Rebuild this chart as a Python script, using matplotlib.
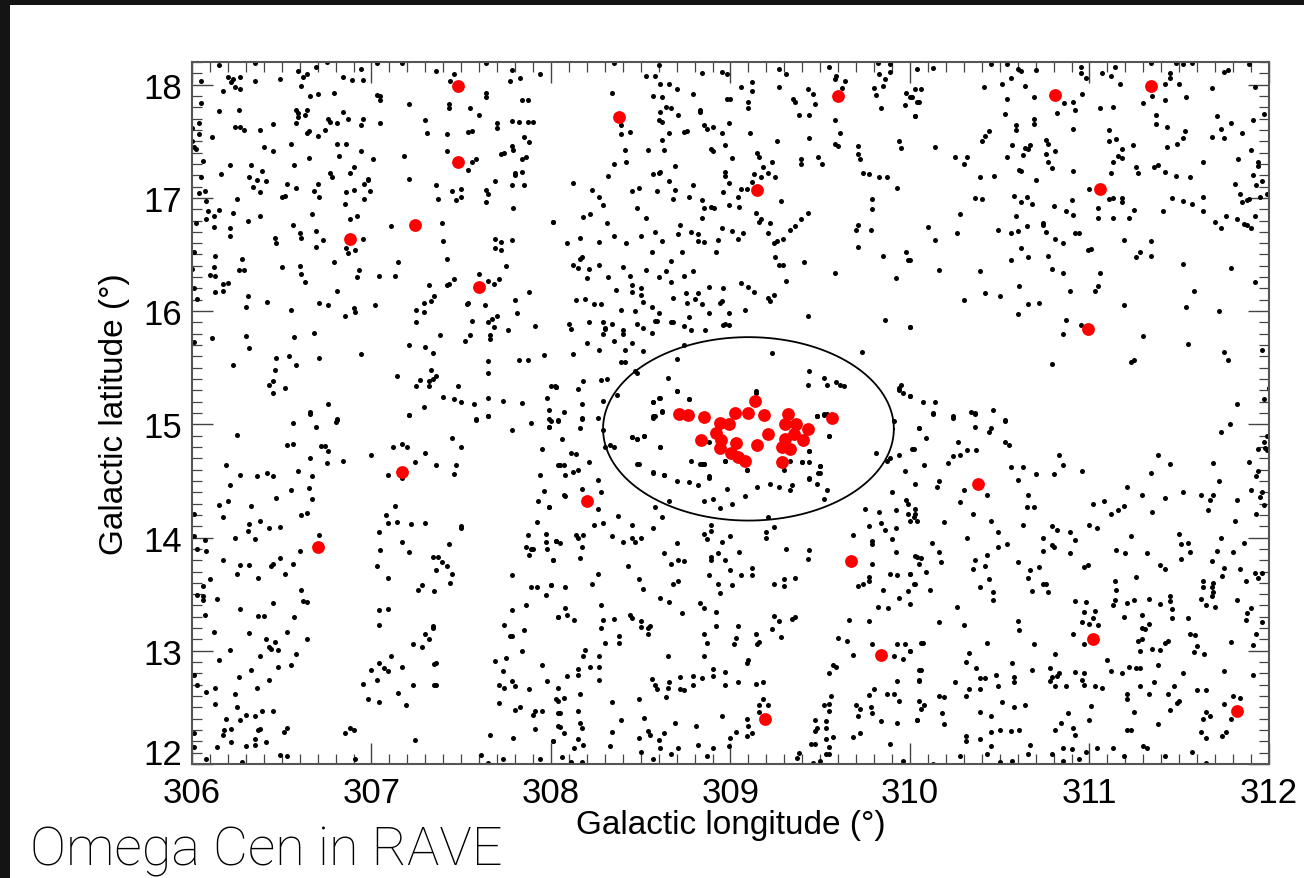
"""
Omega Cen field in RAVE: field stars (black) and RAVE members (red)
in galactic coordinates, with the cluster's tidal radius drawn as a circle.
"""

import matplotlib.pyplot as plt
import numpy as np
from matplotlib.patches import Rectangle

##########################
## Data (galactic longitude, latitude in degrees)

# Cluster centre and tidal radius
cluster_l = 309.10
cluster_b = 14.96
cluster_r = 0.81

# RAVE stars in the central clump
members_core = [
    (308.715, 15.087), (308.765, 15.079), (308.854, 15.067), (308.943, 15.014),
    (308.993, 15.000), (309.025, 15.096), (309.099, 15.102), (309.135, 15.202),
    (309.187, 15.085), (309.320, 15.090), (309.305, 15.000), (309.363, 15.000),
    (309.433, 14.955), (309.564, 15.055), (308.919, 14.926), (308.836, 14.861),
    (308.945, 14.861), (309.031, 14.838), (309.209, 14.911), (309.149, 14.820),
    (309.354, 14.911), (309.402, 14.861), (309.304, 14.867), (309.287, 14.802),
    (309.331, 14.778), (308.942, 14.787), (309.001, 14.743), (309.043, 14.714),
    (309.082, 14.679), (309.285, 14.666),
]

# RAVE stars further out
members_field = [
    (307.48, 17.99), (307.48, 17.32), (308.38, 17.71), (309.60, 17.90),
    (310.81, 17.91), (311.34, 17.99), (309.15, 17.07), (311.06, 17.08),
    (306.88, 16.64), (307.24, 16.76), (307.60, 16.21), (310.99, 15.84),
    (307.17, 14.58), (308.20, 14.32), (310.38, 14.47), (306.70, 13.92),
    (309.67, 13.79), (311.02, 13.10), (309.84, 12.96), (309.19, 12.40),
    (311.82, 12.47),
]

stars_nw = [
    (306.15, 18.17), (306.35, 18.19), (306.69, 18.16), (306.75, 18.20), (306.94, 18.14),
    (307.03, 18.19), (307.17, 18.19), (307.36, 18.12), (307.64, 18.19), (307.78, 18.13),
    (307.94, 18.09), (306.05, 18.03), (306.20, 18.07), (306.23, 18.05), (306.22, 18.02),
    (306.27, 18.07), (306.24, 17.98), (306.27, 17.96), (306.17, 17.94), (306.35, 18.03),
    (306.49, 18.05), (306.59, 18.12), (306.62, 18.07), (306.64, 18.09), (306.61, 17.99),
    (306.66, 17.90), (306.70, 17.92), (306.79, 17.93), (306.84, 18.07), (306.89, 18.04),
    (306.95, 18.04), (307.03, 17.91), (307.05, 17.90), (307.05, 17.86), (307.21, 17.83),
    (307.46, 18.09), (307.44, 18.03), (307.47, 17.96), (307.64, 17.93), (307.64, 17.89),
    (307.77, 18.03), (307.83, 18.06), (306.05, 17.84), (306.15, 17.77), (306.26, 17.78),
    (306.24, 17.63), (306.27, 17.63), (306.29, 17.60), (306.38, 17.60), (306.45, 17.65),
    (306.58, 17.78), (306.59, 17.75), (306.64, 17.78), (306.63, 17.73), (306.58, 17.66),
    (306.59, 17.71), (306.65, 17.59), (306.64, 17.57), (306.70, 17.55), (306.74, 17.60),
    (306.76, 17.70), (306.77, 17.67), (306.81, 17.66), (306.84, 17.76), (306.87, 17.70),
    (306.95, 17.70), (306.94, 17.64), (307.05, 17.66), (307.30, 17.69), (307.31, 17.57),
    (307.43, 17.83), (307.43, 17.79), (307.55, 17.79), (307.42, 17.56), (307.54, 17.58),
    (307.56, 17.59), (307.60, 17.73), (307.70, 17.66), (307.70, 17.62), (307.78, 17.68),
    (307.82, 17.67), (307.87, 17.67), (307.90, 17.67), (307.84, 17.86), (307.87, 17.86),
    (306.00, 17.62), (306.04, 17.66), (306.04, 17.56), (306.11, 17.54), (306.00, 17.50),
    (306.01, 17.45), (306.02, 17.43), (306.40, 17.45), (306.45, 17.41), (306.55, 17.48),
    (306.81, 17.48), (306.86, 17.48), (306.82, 17.37), (306.94, 17.41), (307.01, 17.34),
    (307.18, 17.37), (307.42, 17.41), (307.58, 17.34), (307.56, 17.32), (307.54, 17.25),
    (307.72, 17.39), (307.74, 17.40), (307.78, 17.46), (307.79, 17.42), (307.85, 17.54),
    (307.88, 17.49), (307.86, 17.36), (307.84, 17.34), (307.84, 17.23), (307.80, 17.22),
    (307.80, 17.20), (307.85, 17.11), (307.78, 17.11), (307.69, 17.15), (306.06, 17.33),
    (306.21, 17.29), (306.16, 17.21), (306.33, 17.29), (306.39, 17.24), (306.32, 17.18),
    (306.36, 17.16), (306.41, 17.15), (306.34, 17.10), (306.38, 17.05), (306.57, 17.29),
    (306.53, 17.12), (306.58, 17.09), (306.50, 17.01), (306.52, 17.02), (306.65, 17.35),
    (306.70, 17.12), (306.68, 17.06), (306.71, 17.01), (306.77, 17.22), (306.78, 17.18),
    (306.90, 17.27), (306.88, 17.22), (306.98, 17.17), (306.98, 17.16), (306.96, 17.12),
    (306.90, 17.07), (306.86, 17.05), (306.85, 16.95), (306.99, 17.06), (306.96, 16.99),
    (307.21, 17.17), (307.36, 17.11), (307.37, 16.99), (307.45, 17.06), (307.50, 17.08),
    (307.50, 17.01), (307.47, 16.98), (307.64, 17.07), (307.65, 17.03), (307.64, 16.96),
    (307.79, 16.91), (306.05, 17.18), (306.04, 17.04), (306.07, 17.06), (306.08, 16.97),
    (306.09, 16.88), (306.12, 16.84), (306.15, 16.89), (306.12, 16.74), (306.08, 16.81),
    (306.02, 16.78), (306.23, 16.87), (306.25, 16.99), (306.21, 16.73), (306.21, 16.66),
    (306.31, 16.80), (306.38, 16.84), (306.46, 16.65), (306.47, 16.60), (306.56, 16.76),
    (306.60, 16.69), (306.61, 16.65), (306.69, 16.71), (306.73, 16.63), (306.69, 16.57),
    (306.67, 16.86), (306.88, 16.81), (306.92, 16.84), (306.86, 16.56), (306.87, 16.51),
    (306.91, 16.54), (306.95, 16.64), (307.11, 16.75), (307.39, 16.78), (307.40, 16.62),
    (308.01, 16.79), (307.69, 16.64), (307.72, 16.61), (307.69, 16.56), (307.72, 16.54),
    (307.78, 16.63), (306.01, 16.52), (306.00, 16.37), (306.13, 16.49), (306.12, 16.39),
    (306.10, 16.32), (306.13, 16.31), (306.17, 16.24), (306.20, 16.25), (306.13, 16.17),
    (306.17, 16.18), (306.01, 16.20), (306.03, 16.11), (306.28, 16.46), (306.26, 16.36),
    (306.29, 16.36), (306.31, 16.13), (306.30, 16.04), (306.50, 16.39), (306.60, 16.40),
    (306.61, 16.33), (306.63, 16.26), (306.79, 16.43), (306.93, 16.36), (306.92, 16.30),
    (306.81, 16.18), (307.04, 16.31), (307.13, 16.31), (307.15, 16.43), (307.42, 16.46),
    (307.46, 16.28), (307.43, 16.24), (307.42, 16.23), (307.32, 16.23), (307.35, 16.13),
    (307.33, 16.09), (307.29, 16.07), (307.25, 16.01), (307.29, 15.99), (307.25, 15.90),
    (307.60, 16.33), (307.65, 16.27), (307.71, 16.28), (307.68, 16.24), (307.53, 16.06),
    (307.54, 16.07), (307.63, 16.05), (307.70, 15.96), (307.67, 15.93), (307.65, 15.90),
    (307.68, 15.86), (307.75, 16.40), (307.88, 16.17), (307.80, 16.10), (307.81, 15.98),
    (307.91, 15.87), (307.87, 15.57), (307.82, 15.57), (307.96, 15.61), (306.42, 16.08),
    (306.55, 16.01), (306.71, 16.07), (306.76, 16.05), (306.90, 16.03), (306.91, 15.99),
    (306.85, 15.96), (307.02, 16.05), (306.11, 15.76), (306.01, 15.73), (306.30, 15.78),
    (306.32, 15.67), (306.57, 15.77), (306.68, 15.81), (306.23, 15.52), (306.47, 15.59),
    (306.54, 15.60), (306.58, 15.52), (306.71, 15.59), (306.94, 15.62), (307.21, 15.70),
    (307.30, 15.68), (307.34, 15.63), (307.38, 15.79), (307.52, 15.74), (307.55, 15.79),
    (307.56, 15.91), (307.66, 15.79), (307.66, 15.75), (307.76, 15.83), (307.65, 15.56),
    (307.65, 15.45), (307.14, 15.43), (307.33, 15.48), (307.36, 15.43), (307.34, 15.40),
    (307.32, 15.38), (307.27, 15.39), (307.25, 15.34), (307.32, 15.34), (307.29, 15.15),
    (307.40, 15.24), (307.46, 15.22), (307.50, 15.20), (307.48, 15.34), (307.57, 15.18),
    (307.65, 15.23), (307.73, 15.21), (307.84, 15.19), (307.98, 15.23), (307.99, 15.13),
    (308.00, 15.34), (308.03, 15.33), (306.46, 15.48), (306.45, 15.38), (306.43, 15.35),
    (306.45, 15.28), (306.52, 15.32), (306.76, 15.18), (306.66, 15.11), (306.81, 15.05),
    (307.21, 15.08), (307.65, 15.07), (307.58, 15.05), (307.99, 15.05),
]

stars_n = [
    (308.35, 18.19), (308.60, 18.17), (308.84, 18.10), (308.95, 18.11), (308.98, 18.09),
    (309.27, 18.14), (309.31, 18.09), (309.55, 18.16), (309.59, 18.08), (309.58, 18.05),
    (309.64, 18.03), (309.62, 17.97), (309.82, 18.19), (309.89, 18.18), (309.89, 18.11),
    (309.83, 18.09), (309.86, 18.05), (309.85, 17.99), (309.80, 17.97), (310.03, 17.96),
    (309.98, 17.93), (310.00, 17.89), (310.04, 17.85), (309.97, 17.82), (310.03, 17.72),
    (308.53, 18.08), (308.58, 18.08), (308.61, 18.01), (308.66, 18.01), (308.70, 17.96),
    (308.57, 17.90), (308.62, 17.89), (308.79, 17.92), (309.06, 17.98), (309.12, 18.02),
    (309.12, 17.94), (309.27, 17.98), (308.98, 17.87), (309.00, 17.87), (309.10, 17.85),
    (309.10, 17.79), (309.35, 17.87), (309.36, 17.85), (309.43, 17.96), (309.46, 17.92),
    (309.47, 17.83), (309.38, 17.73), (309.44, 17.73), (309.58, 17.69), (309.61, 17.57),
    (309.84, 17.79), (309.81, 17.91), (308.34, 17.93), (308.61, 17.76), (308.64, 17.80),
    (308.67, 17.79), (308.71, 17.73), (308.60, 17.69), (308.62, 17.67), (308.83, 17.78),
    (308.83, 17.76), (308.85, 17.64), (308.87, 17.61), (308.90, 17.63), (308.66, 17.57),
    (308.74, 17.58), (308.76, 17.59), (308.95, 17.57), (308.99, 17.66), (309.11, 17.57),
    (309.26, 17.50), (309.44, 17.53), (309.58, 17.48), (309.60, 17.46), (308.39, 17.64),
    (308.39, 17.56), (308.44, 17.58), (308.41, 17.42), (308.42, 17.32), (308.35, 17.30),
    (308.54, 17.42), (308.63, 17.42), (308.62, 17.51), (308.89, 17.43), (308.90, 17.41),
    (308.97, 17.47), (309.01, 17.35), (309.15, 17.40), (309.16, 17.36), (309.23, 17.32),
    (309.18, 17.27), (309.21, 17.22), (309.17, 17.18), (309.25, 17.18), (309.13, 17.21),
    (309.12, 17.14), (308.97, 17.23), (308.97, 17.19), (308.99, 17.13), (309.06, 17.08),
    (309.09, 17.08), (309.04, 17.01), (308.96, 17.05), (309.39, 17.34), (309.39, 17.30),
    (309.49, 17.36), (309.51, 17.30), (309.71, 17.46), (309.71, 17.39), (309.72, 17.34),
    (309.74, 17.22), (309.77, 17.21), (309.83, 17.18), (309.87, 17.18), (309.94, 17.50),
    (309.95, 17.44), (309.93, 17.09), (308.12, 17.13), (308.23, 17.07), (308.27, 17.01),
    (308.29, 16.94), (308.32, 17.19), (308.57, 17.21), (308.60, 17.22), (308.61, 17.23),
    (308.69, 17.28), (308.66, 17.15), (308.45, 17.06), (308.49, 17.09), (308.59, 17.06),
    (308.69, 17.07), (308.68, 16.99), (308.79, 17.11), (308.77, 17.01), (308.84, 16.98),
    (308.85, 16.91), (308.89, 16.92), (308.91, 16.91), (308.84, 16.82), (308.99, 16.94),
    (309.05, 16.92), (309.14, 16.87), (309.16, 16.79), (309.17, 16.81), (309.22, 16.78),
    (309.28, 16.97), (309.43, 16.87), (309.39, 16.81), (309.36, 16.75), (309.33, 16.72),
    (309.21, 16.69), (309.24, 16.60), (309.26, 16.62), (309.29, 16.64), (309.79, 16.99),
    (309.79, 16.90), (309.71, 16.76), (309.70, 16.72), (309.78, 16.72), (308.01, 16.79),
    (308.18, 16.83), (308.22, 16.86), (308.31, 16.78), (308.35, 16.66), (308.42, 16.60),
    (308.50, 16.66), (308.48, 16.91), (308.53, 16.82), (308.58, 16.70), (308.62, 16.62),
    (308.71, 16.68), (308.72, 16.76), (308.78, 16.70), (308.82, 16.68), (308.82, 16.62),
    (308.85, 16.61), (308.93, 16.63), (308.95, 16.73), (309.01, 16.71), (309.07, 16.69),
    (309.04, 16.64), (308.92, 16.52), (308.73, 16.52), (308.56, 16.52), (308.09, 16.60),
    (308.16, 16.65), (308.17, 16.48), (308.16, 16.46), (308.12, 16.41), (308.15, 16.38),
    (308.21, 16.37), (308.20, 16.29), (308.27, 16.61), (308.27, 16.41), (308.32, 16.30),
    (308.36, 16.19), (308.40, 16.39), (308.44, 16.31), (308.45, 16.23), (308.45, 16.17),
    (308.50, 16.20), (308.50, 16.14), (308.51, 16.08), (308.39, 16.01), (308.47, 16.00),
    (308.56, 16.04), (308.53, 16.36), (308.60, 16.30), (308.64, 16.35), (308.67, 16.26),
    (308.67, 16.44), (308.74, 16.31), (308.79, 16.35), (308.68, 16.12), (308.75, 16.16),
    (308.80, 16.11), (308.82, 16.16), (308.88, 16.21), (308.84, 16.06), (308.76, 16.07),
    (308.96, 16.20), (308.95, 16.09), (308.94, 16.07), (308.99, 15.98), (309.06, 16.25),
    (309.10, 16.21), (309.13, 16.17), (309.21, 16.12), (309.22, 16.09), (309.24, 16.14),
    (309.08, 16.01), (308.88, 15.98), (308.77, 15.95), (308.60, 15.98), (308.59, 15.91),
    (309.31, 16.27), (309.41, 16.43), (309.25, 16.48), (309.27, 16.41), (309.29, 16.41),
    (309.58, 16.34), (309.71, 16.57), (309.85, 16.49), (309.98, 16.52), (309.99, 16.45),
    (309.92, 16.29), (310.00, 15.86), (309.86, 15.92), (309.43, 15.96), (308.14, 16.10),
    (308.19, 16.11), (308.24, 16.06), (308.28, 16.06), (308.10, 15.89), (308.11, 15.84),
    (308.21, 15.90), (308.30, 15.84), (308.29, 15.90), (308.30, 15.85), (308.34, 15.89),
    (308.29, 15.80), (308.40, 15.83), (308.40, 15.80), (308.35, 15.74), (308.45, 15.72),
    (308.48, 15.89), (308.51, 15.85), (308.56, 15.81), (308.58, 15.91), (308.67, 15.90),
    (308.68, 15.90), (308.74, 15.87), (308.78, 15.83), (308.86, 15.83), (308.96, 15.88),
    (308.97, 15.89), (308.99, 15.88), (308.20, 15.72), (308.27, 15.66), (308.41, 15.66),
    (308.51, 15.65), (308.12, 15.62), (308.39, 15.55), (308.41, 15.55), (308.74, 15.70),
    (308.70, 15.58), (309.23, 15.63), (309.73, 15.64), (308.47, 15.47), (308.48, 15.45),
    (308.31, 15.40), (308.28, 15.39), (308.18, 15.38), (308.15, 15.31), (308.02, 15.34),
    (308.03, 15.33), (308.65, 15.41), (308.70, 15.29), (308.77, 15.22), (308.61, 15.23),
    (308.57, 15.20), (308.29, 15.21), (308.37, 15.26), (308.17, 15.18), (308.07, 15.11),
    (308.17, 15.06), (308.58, 15.07), (308.62, 15.12), (309.14, 15.29), (309.44, 15.47),
    (309.43, 15.35), (309.52, 15.41), (309.54, 15.35), (309.59, 15.37), (309.61, 15.35),
    (309.63, 15.34), (309.94, 15.32), (309.94, 15.30), (309.96, 15.28), (310.00, 15.25),
    (309.95, 15.35), (309.48, 15.07), (309.54, 15.09),
]

stars_ne = [
    (310.04, 18.14), (310.13, 18.15), (310.45, 18.18), (310.54, 18.18), (310.60, 18.14),
    (310.62, 18.12), (310.70, 18.13), (310.95, 18.16), (310.95, 18.10), (310.98, 18.06),
    (311.07, 18.10), (311.12, 18.08), (311.14, 18.16), (311.17, 18.01), (311.34, 18.19),
    (311.45, 18.10), (311.45, 18.06), (311.42, 18.01), (311.50, 18.01), (311.48, 18.19),
    (311.52, 18.18), (311.57, 18.19), (311.75, 18.11), (311.77, 18.13), (311.89, 18.18),
    (311.92, 17.98), (310.01, 17.89), (310.05, 17.85), (310.06, 17.96), (310.03, 17.72),
    (310.41, 17.98), (310.51, 18.01), (310.56, 18.06), (310.64, 17.99), (310.54, 17.87),
    (310.53, 17.74), (310.69, 17.89), (310.86, 17.84), (310.82, 17.75), (310.91, 17.85),
    (310.92, 17.78), (310.96, 17.92), (311.06, 17.79), (311.13, 17.80), (311.30, 17.84),
    (311.35, 17.90), (311.37, 17.73), (311.37, 17.65), (311.42, 17.86), (311.43, 17.63),
    (311.54, 17.89), (311.68, 17.97), (311.71, 17.72), (311.91, 17.69), (311.97, 17.74),
    (311.73, 17.61), (311.75, 17.53), (311.79, 17.66), (311.85, 17.57), (311.68, 17.54),
    (310.14, 17.45), (310.25, 17.36), (310.30, 17.30), (310.32, 17.36), (310.39, 17.18),
    (310.47, 17.19), (310.40, 17.50), (310.42, 17.55), (310.44, 17.59), (310.57, 17.47),
    (310.54, 17.36), (310.59, 17.64), (310.59, 17.60), (310.64, 17.44), (310.66, 17.43),
    (310.67, 17.47), (310.63, 17.38), (310.69, 17.70), (310.69, 17.65), (310.70, 17.16),
    (310.61, 17.25), (310.62, 17.24), (310.76, 17.51), (310.77, 17.48), (310.76, 17.39),
    (310.77, 17.32), (310.79, 17.26), (310.81, 17.41), (310.91, 17.61), (310.91, 17.24),
    (311.11, 17.60), (311.15, 17.52), (311.11, 17.50), (311.18, 17.43), (311.16, 17.37),
    (311.18, 17.35), (311.13, 17.32), (311.12, 17.22), (311.24, 17.47), (311.26, 17.27),
    (311.27, 17.22), (311.38, 17.29), (311.36, 17.27), (311.43, 17.45), (311.49, 17.48),
    (311.52, 17.53), (311.53, 17.59), (311.42, 17.23), (311.48, 17.19), (311.56, 17.18),
    (311.63, 17.32), (311.90, 17.42), (311.83, 17.34), (311.94, 17.32), (311.94, 17.28),
    (311.91, 17.20), (311.81, 17.12), (311.84, 17.03), (311.85, 16.96), (311.88, 16.98),
    (311.89, 16.99), (311.95, 17.01), (311.96, 17.15), (311.93, 17.11), (311.99, 17.03),
    (310.36, 17.00), (310.40, 16.99), (310.58, 17.02), (310.62, 16.96), (310.65, 17.01),
    (310.68, 16.95), (310.80, 16.93), (310.87, 16.88), (310.90, 16.98), (310.91, 16.85),
    (311.00, 17.08), (311.05, 16.91), (311.05, 16.82), (311.11, 16.99), (311.13, 17.00),
    (311.18, 17.00), (311.18, 16.96), (311.13, 16.82), (311.22, 16.82), (311.25, 16.89),
    (311.41, 16.88), (311.46, 17.00), (311.52, 16.97), (311.57, 16.95), (311.63, 16.88),
    (311.63, 17.01), (311.70, 16.79), (311.73, 16.73), (311.76, 16.84), (311.82, 16.81),
    (311.86, 16.77), (311.88, 16.76), (311.90, 16.73), (311.92, 16.84), (310.28, 16.86),
    (310.10, 16.74), (310.14, 16.63), (310.26, 16.69), (310.49, 16.72), (310.56, 16.69),
    (310.59, 16.84), (310.60, 16.71), (310.65, 16.75), (310.62, 16.56), (310.66, 16.48),
    (310.74, 16.78), (310.74, 16.76), (310.76, 16.70), (310.81, 16.64), (310.85, 16.60),
    (310.92, 16.69), (310.94, 16.69), (310.99, 16.54), (311.01, 16.55), (311.19, 16.63),
    (311.34, 16.62), (311.34, 16.49), (311.26, 16.48), (311.28, 16.52), (311.52, 16.42),
    (311.79, 16.38), (310.00, 16.45), (310.16, 16.36), (310.39, 16.35), (310.56, 16.45),
    (310.61, 16.22), (310.42, 16.16), (310.50, 16.13), (310.77, 16.49), (310.79, 16.37),
    (310.85, 16.34), (310.89, 16.18), (311.03, 16.18), (311.05, 16.22), (311.06, 16.34),
    (311.19, 16.05), (311.54, 16.04), (311.58, 16.18), (311.72, 16.00), (311.92, 16.26),
    (310.30, 16.10), (310.66, 16.06), (310.72, 16.07), (310.60, 15.97), (310.87, 15.92),
    (310.85, 15.80), (310.95, 15.88), (311.30, 15.78), (311.55, 15.71), (311.75, 15.64),
    (311.77, 15.57), (311.96, 15.66), (310.79, 15.53), (311.23, 15.55), (311.25, 15.57),
    (310.00, 15.86), (310.00, 15.25), (310.07, 15.20), (310.14, 15.20), (310.13, 15.10),
    (310.24, 15.07), (310.34, 15.11), (310.36, 15.10), (310.46, 15.13), (310.53, 15.04),
    (311.82, 15.18), (311.97, 15.22), (312.00, 15.32),
]

stars_sw = [
    (306.56, 15.01), (306.66, 15.09), (306.81, 15.04), (306.80, 15.02), (306.69, 14.98),
    (307.21, 15.08), (307.58, 15.04), (307.65, 15.07), (307.78, 14.95), (307.89, 15.01),
    (307.99, 14.98), (308.00, 15.03), (308.04, 15.03), (306.25, 14.91), (306.53, 14.82),
    (306.56, 14.83), (306.66, 14.70), (306.72, 14.81), (306.74, 14.81), (306.76, 14.76),
    (306.75, 14.66), (306.84, 14.68), (307.00, 14.73), (307.12, 14.80), (307.17, 14.83),
    (307.20, 14.80), (307.30, 14.75), (307.24, 14.67), (307.36, 14.64), (307.45, 14.88),
    (307.50, 14.80), (307.47, 14.64), (307.46, 14.56), (307.09, 14.55), (307.17, 14.53),
    (307.95, 14.78), (307.94, 14.55), (307.96, 14.41), (307.93, 14.32), (307.99, 14.27),
    (307.92, 14.14), (307.97, 14.03), (307.98, 13.90), (307.97, 13.96), (308.04, 14.64),
    (308.03, 13.97), (307.87, 14.02), (307.86, 13.92), (307.89, 13.90), (307.90, 13.90),
    (307.88, 13.85), (308.01, 13.80), (306.19, 14.64), (306.27, 14.55), (306.36, 14.54),
    (306.42, 14.57), (306.45, 14.54), (306.21, 14.46), (306.15, 14.29), (306.20, 14.32),
    (306.17, 14.18), (306.33, 14.28), (306.59, 14.59), (306.55, 14.42), (306.65, 14.44),
    (306.67, 14.34), (306.67, 14.54), (306.47, 14.35), (306.61, 14.20), (306.64, 14.22),
    (306.38, 14.15), (306.32, 14.12), (306.31, 14.06), (306.35, 13.99), (306.43, 14.08),
    (306.49, 14.09), (306.24, 14.00), (306.01, 14.21), (306.01, 14.01), (306.07, 13.98),
    (306.03, 13.90), (306.08, 13.88), (306.17, 13.80), (306.10, 13.63), (306.06, 13.57),
    (306.03, 13.49), (306.06, 13.48), (306.06, 13.45), (306.07, 13.32), (306.14, 13.46),
    (306.25, 13.68), (306.27, 13.76), (306.32, 13.76), (306.37, 13.64), (306.44, 13.75),
    (306.45, 13.77), (306.49, 13.82), (306.52, 13.68), (306.56, 13.77), (306.60, 13.88),
    (306.71, 14.02), (306.61, 13.54), (306.62, 13.44), (306.64, 13.43), (306.45, 13.42),
    (306.57, 13.30), (306.27, 13.37), (306.37, 13.31), (306.40, 13.31), (307.08, 14.20),
    (307.04, 14.05), (307.09, 14.13), (307.14, 14.14), (307.13, 14.28), (307.22, 14.12),
    (307.30, 14.13), (307.17, 13.96), (307.21, 13.87), (307.05, 13.89), (307.03, 13.75),
    (307.09, 13.64), (307.34, 13.83), (307.37, 13.83), (307.39, 13.78), (307.42, 13.75),
    (307.43, 13.94), (307.50, 14.10), (307.50, 14.08), (307.36, 13.71), (307.45, 13.68),
    (307.44, 13.60), (307.28, 13.58), (307.26, 13.54), (307.35, 13.53), (307.78, 13.67),
    (307.89, 13.56), (307.92, 13.56), (307.97, 13.49), (308.00, 13.58), (308.04, 13.30),
    (307.78, 13.36), (307.74, 13.23), (307.86, 13.40), (307.85, 13.18), (307.84, 13.00),
    (307.77, 13.13), (307.78, 13.13), (307.69, 12.91), (307.75, 12.94), (307.73, 12.82),
    (307.04, 13.36), (307.09, 13.37), (307.04, 13.23), (307.34, 13.20), (307.34, 13.22),
    (307.30, 13.15), (307.32, 13.10), (307.23, 13.06), (307.28, 13.03), (307.11, 12.95),
    (307.04, 12.89), (307.07, 12.85), (307.09, 12.82), (307.00, 12.83), (307.03, 12.74),
    (306.95, 12.71), (307.17, 12.86), (307.23, 12.70), (307.35, 12.88), (307.36, 12.89),
    (307.35, 12.70), (307.36, 12.70), (307.15, 12.63), (307.19, 12.52), (306.98, 12.57),
    (307.04, 12.55), (306.85, 12.27), (306.88, 12.32), (306.90, 12.30), (307.24, 12.21),
    (306.91, 12.04), (306.12, 13.17), (306.32, 13.16), (306.21, 13.01), (306.15, 12.92),
    (306.38, 12.95), (306.41, 13.10), (306.43, 13.03), (306.44, 13.02), (306.46, 13.08),
    (306.48, 13.01), (306.53, 13.17), (306.64, 13.10), (306.58, 12.97), (306.55, 12.87),
    (306.48, 12.86), (306.43, 12.74), (306.36, 12.67), (306.33, 12.83), (306.26, 12.77),
    (306.24, 12.62), (306.13, 12.67), (306.08, 12.64), (306.03, 12.70), (306.01, 12.79),
    (306.13, 12.53), (306.19, 12.40), (306.25, 12.50), (306.27, 12.39), (306.30, 12.43),
    (306.35, 12.42), (306.39, 12.47), (306.45, 12.47), (306.17, 12.26), (306.18, 12.30),
    (306.22, 12.31), (306.01, 12.27), (306.01, 12.15), (306.14, 12.15), (306.22, 12.19),
    (306.30, 12.16), (306.35, 12.17), (306.35, 12.22), (306.37, 12.30), (306.38, 12.31),
    (306.41, 12.19), (306.51, 12.28), (306.53, 12.32), (306.49, 12.08), (306.53, 12.07),
    (306.28, 12.02), (306.08, 12.04), (307.71, 12.70), (307.74, 12.67), (307.80, 12.69),
    (307.78, 12.73), (307.71, 12.54), (307.80, 12.48), (307.83, 12.50), (307.88, 12.66),
    (307.95, 12.87), (307.98, 12.73), (307.91, 12.47), (307.90, 12.43), (307.95, 12.47),
    (307.91, 12.31), (307.66, 12.26), (307.79, 12.23), (308.01, 12.20), (308.04, 12.56),
    (308.04, 12.45), (308.04, 12.34), (307.73, 12.04), (307.94, 12.04), (307.61, 12.08),
    (307.65, 12.01),
]

stars_s = [
    (307.99, 14.98), (308.04, 15.04), (308.17, 15.05), (308.26, 15.06), (308.29, 14.95),
    (308.16, 14.97), (308.06, 14.87), (308.11, 14.75), (308.14, 14.74), (308.21, 14.67),
    (308.05, 14.64), (308.07, 14.64), (308.08, 14.55), (308.12, 14.58), (308.15, 14.60),
    (307.99, 14.27), (308.17, 14.43), (308.07, 14.38), (308.08, 14.37), (308.28, 14.40),
    (308.26, 14.51), (308.26, 14.25), (308.30, 14.80), (308.33, 14.82), (308.35, 14.80),
    (308.45, 14.89), (308.48, 14.87), (308.52, 14.90), (308.57, 15.06), (308.61, 14.80),
    (308.48, 14.65), (308.57, 14.57), (308.63, 14.55), (308.70, 14.50), (308.77, 14.49),
    (308.82, 14.46), (308.84, 14.65), (308.85, 14.65), (308.88, 14.53), (308.97, 14.68),
    (309.09, 14.60), (308.98, 14.43), (309.08, 14.37), (309.15, 14.45), (309.22, 14.47),
    (309.27, 14.45), (309.34, 14.46), (309.33, 14.42), (309.44, 14.52), (309.48, 14.47),
    (309.50, 14.57), (309.50, 14.63), (309.44, 14.67), (309.40, 14.67), (309.44, 14.76),
    (309.54, 14.42), (309.52, 14.34), (309.55, 14.90), (309.48, 15.07), (309.52, 15.08),
    (309.91, 15.03), (310.05, 14.97), (310.01, 14.78), (309.81, 14.75), (309.87, 14.68),
    (309.89, 14.70), (309.94, 14.73), (309.97, 14.59), (310.03, 14.47), (308.66, 14.32),
    (308.85, 14.32), (308.90, 14.34), (308.94, 14.26), (309.01, 14.30), (308.89, 14.11),
    (308.89, 14.06), (308.85, 14.03), (308.87, 13.99), (308.95, 13.96), (309.00, 14.01),
    (309.05, 13.87), (309.12, 13.73), (309.12, 13.67), (308.97, 13.80), (309.00, 13.71),
    (308.93, 13.59), (308.94, 13.51), (308.88, 13.67), (308.89, 13.83), (308.89, 13.80),
    (308.93, 13.86), (309.21, 14.18), (309.20, 14.05), (309.20, 14.00), (309.24, 14.09),
    (309.31, 13.90), (309.44, 13.89), (309.43, 13.81), (309.36, 13.64), (309.30, 13.63),
    (309.30, 13.57), (309.24, 13.59), (309.01, 13.58), (309.06, 13.67), (308.01, 13.80),
    (308.03, 13.97), (308.05, 13.95), (308.14, 14.02), (308.15, 14.00), (308.18, 14.02),
    (308.17, 13.92), (308.16, 13.82), (308.24, 14.11), (308.29, 14.13), (308.34, 14.01),
    (308.375, 14.19), (308.40, 13.96), (308.45, 14.11), (308.45, 14.00), (308.47, 13.96),
    (308.50, 14.00), (308.57, 14.08), (308.58, 14.27), (308.62, 14.18), (308.63, 13.86),
    (308.67, 13.77), (308.70, 13.95), (308.71, 13.80), (308.74, 13.79), (308.71, 13.62),
    (308.68, 13.59), (308.49, 13.63), (308.51, 13.55), (308.43, 13.75), (308.26, 13.68),
    (308.23, 13.59), (308.08, 13.56), (308.00, 13.58), (308.08, 13.38), (308.09, 13.32),
    (308.13, 13.27), (308.04, 13.30), (308.28, 13.40), (308.29, 13.27), (308.28, 13.20),
    (308.30, 13.07), (308.35, 13.28), (308.38, 13.13), (308.38, 13.07), (308.44, 13.32),
    (308.45, 13.29), (308.50, 13.26), (308.50, 13.21), (308.54, 13.20), (308.55, 13.22),
    (308.54, 13.15), (308.61, 13.47), (308.66, 13.43), (308.73, 13.33), (308.83, 13.42),
    (308.85, 13.38), (308.92, 13.34), (308.92, 13.22), (309.04, 13.22), (308.85, 13.15),
    (308.87, 13.07), (309.03, 13.11), (309.02, 13.06), (309.14, 13.15), (309.16, 13.08),
    (309.15, 13.06), (309.23, 13.19), (309.24, 13.31), (309.27, 13.26), (309.28, 13.12),
    (309.34, 13.28), (309.36, 13.30), (308.85, 12.95), (308.65, 12.95), (308.27, 12.95),
    (308.22, 12.86), (308.19, 13.01), (308.18, 12.95), (308.15, 12.84), (308.15, 12.79),
    (308.09, 12.78), (308.27, 12.74), (308.27, 12.86), (308.04, 12.67), (308.03, 12.57),
    (308.07, 12.58), (308.16, 12.62), (308.34, 12.55), (308.49, 12.57), (308.56, 12.75),
    (308.58, 12.70), (308.59, 12.66), (308.66, 12.72), (308.65, 12.67), (308.64, 12.59),
    (308.72, 12.77), (308.72, 12.66), (308.74, 12.65), (308.79, 12.70), (308.79, 12.78),
    (308.84, 12.76), (308.90, 12.84), (308.90, 12.78), (308.97, 12.81), (308.97, 12.70),
    (309.04, 12.72), (309.09, 12.89), (309.10, 12.92), (309.14, 12.71), (309.18, 12.72),
    (309.18, 12.57), (309.21, 12.52), (309.16, 12.52), (309.16, 12.46), (309.09, 12.40),
    (309.10, 12.34), (309.12, 12.27), (308.95, 12.42), (309.03, 12.28), (309.00, 12.23),
    (308.99, 12.16), (309.09, 12.25), (308.87, 12.07), (308.90, 12.14), (308.82, 12.17),
    (308.81, 12.34), (308.69, 12.36), (308.71, 12.14), (308.67, 12.09), (308.60, 12.21),
    (308.61, 12.14), (308.63, 12.27), (308.54, 12.29), (308.55, 12.26), (308.52, 12.41),
    (308.50, 12.11), (308.57, 12.04), (308.39, 12.39), (308.34, 12.28), (308.33, 12.16),
    (308.49, 12.23), (308.05, 12.45), (308.05, 12.33), (308.07, 12.27), (308.15, 12.47),
    (308.16, 12.36), (308.17, 12.32), (308.15, 12.22), (308.13, 12.14), (308.18, 12.17),
    (308.11, 12.02), (308.17, 12.02), (308.06, 12.06), (308.01, 12.20), (309.68, 14.02),
    (309.75, 14.25), (309.77, 14.10), (309.83, 14.23), (309.84, 14.13), (309.86, 14.07),
    (309.92, 14.24), (309.92, 14.08), (309.90, 13.99), (309.92, 13.87), (309.98, 14.33),
    (309.99, 14.30), (309.99, 14.21), (310.00, 14.15), (310.03, 14.21), (310.04, 14.15),
    (309.90, 14.40), (309.79, 13.97), (309.79, 13.94), (309.79, 13.77), (309.77, 13.65),
    (309.77, 13.62), (309.74, 13.59), (309.71, 13.57), (309.89, 13.68), (309.93, 13.67),
    (310.00, 13.68), (310.06, 13.82), (310.03, 13.84), (309.85, 13.54), (309.88, 13.38),
    (309.94, 13.47), (309.99, 13.53), (310.02, 13.59), (309.82, 13.39), (309.77, 13.26),
    (309.66, 13.27), (309.60, 13.11), (309.65, 13.09), (309.68, 12.96), (309.79, 13.06),
    (309.91, 12.95), (309.96, 12.93), (310.00, 13.00), (309.97, 13.06), (309.93, 13.06),
    (310.06, 13.07), (309.93, 12.73), (309.87, 12.62), (309.91, 12.62), (309.94, 12.56),
    (309.80, 12.66), (309.77, 12.61), (309.70, 12.52), (309.72, 12.49), (309.71, 12.42),
    (309.78, 12.50), (309.79, 12.45), (309.84, 12.38), (309.93, 12.36), (310.04, 12.39),
    (310.05, 12.56), (310.05, 12.73), (310.05, 12.83), (309.68, 12.24), (309.72, 12.27),
    (309.89, 12.18), (309.96, 12.03), (309.55, 12.47), (309.55, 12.53), (309.56, 12.60),
    (309.52, 12.52), (309.53, 12.38), (309.47, 12.39), (309.48, 12.32), (309.53, 12.32),
    (309.47, 12.29), (309.53, 12.22), (309.57, 12.24), (309.55, 12.15), (309.53, 12.09),
    (309.55, 12.09), (309.45, 12.18), (309.47, 12.18), (309.50, 12.03), (309.46, 12.01),
    (309.38, 12.10), (309.37, 12.05), (309.55, 12.80), (309.59, 12.86), (309.57, 12.87),
]

stars_core = [
    (308.70, 15.29), (308.57, 15.20), (308.60, 15.23), (308.77, 15.22), (308.62, 15.11),
    (308.57, 15.07), (309.14, 15.28), (309.48, 15.07), (309.52, 15.09), (309.55, 14.90),
    (308.45, 14.89), (308.48, 14.87), (308.52, 14.90), (308.61, 14.80), (308.78, 14.68),
    (308.83, 14.65), (308.85, 14.65), (308.88, 14.84), (308.97, 14.68), (309.09, 14.60),
    (309.30, 14.60), (309.33, 14.68), (309.40, 14.67), (309.44, 14.76), (309.50, 14.63),
    (309.49, 14.57), (309.44, 14.53), (308.88, 14.54), (308.63, 14.55), (308.57, 14.58),
    (308.49, 14.65),
]

stars_se = [
    (310.13, 15.09), (310.24, 15.06), (310.36, 15.09), (310.53, 15.03), (310.36, 14.98),
    (310.05, 14.97), (310.09, 14.88), (310.02, 14.78), (310.27, 14.84), (310.24, 14.72),
    (310.28, 14.73), (310.32, 14.77), (310.37, 14.77), (310.21, 14.66), (310.08, 14.64),
    (310.45, 14.97), (310.44, 14.93), (310.53, 14.84), (310.55, 14.82), (310.56, 14.62),
    (310.63, 14.62), (310.70, 14.56), (310.60, 14.51), (310.80, 14.56), (310.83, 14.73),
    (310.85, 14.64), (310.96, 14.59), (310.43, 14.38), (310.28, 14.31), (310.30, 14.42),
    (310.35, 14.21), (310.45, 14.15), (310.49, 14.05), (310.15, 14.45), (310.16, 14.50),
    (310.03, 14.25), (310.02, 14.18), (310.19, 14.14), (310.32, 14.00), (310.63, 14.11),
    (310.66, 14.38), (310.65, 14.27), (310.69, 14.27), (310.79, 14.10), (310.82, 14.07),
    (310.74, 14.00), (310.80, 13.92), (310.89, 14.05), (310.92, 13.98), (311.00, 14.11),
    (311.04, 14.08), (311.02, 14.30), (311.08, 14.32), (311.12, 14.21), (311.16, 14.24),
    (311.19, 14.28), (311.21, 14.45), (311.29, 14.38), (311.34, 14.57), (311.38, 14.73),
    (311.45, 14.65), (311.35, 14.23), (311.42, 14.35), (311.52, 14.40), (311.62, 14.38),
    (311.67, 14.33), (311.69, 14.38), (311.66, 14.24), (311.72, 14.50), (311.69, 14.66),
    (311.73, 14.93), (311.78, 15.00), (311.89, 14.67), (311.90, 14.42), (311.82, 14.33),
    (311.81, 14.15), (311.93, 14.54), (311.94, 14.59), (311.96, 14.40), (311.95, 14.36),
    (311.97, 14.29), (311.93, 14.21), (311.98, 14.79), (311.99, 14.90), (311.97, 14.84),
    (311.99, 14.77), (311.94, 14.78), (310.12, 13.95), (310.16, 13.87), (310.17, 13.78),
    (310.04, 13.83), (310.05, 13.77), (310.09, 13.70), (310.00, 13.68), (310.03, 13.59),
    (310.11, 13.54), (310.00, 13.41), (310.26, 13.39), (310.36, 13.80), (310.35, 13.72),
    (310.42, 13.75), (310.43, 13.85), (310.49, 13.92), (310.54, 13.94), (310.44, 13.63),
    (310.39, 13.56), (310.46, 13.52), (310.46, 13.45), (310.60, 13.78), (310.67, 13.71),
    (310.66, 13.64), (310.68, 13.53), (310.72, 13.74), (310.74, 13.88), (310.79, 13.93),
    (310.74, 13.59), (310.76, 13.59), (310.77, 13.52), (310.89, 13.86), (310.97, 13.74),
    (310.99, 13.76), (311.15, 13.89), (311.20, 13.86), (311.23, 14.01), (311.32, 13.86),
    (311.39, 13.76), (311.42, 13.72), (311.50, 14.03), (311.51, 13.94), (311.55, 13.95),
    (311.56, 13.87), (311.51, 13.81), (311.68, 13.79), (311.71, 13.88), (311.73, 14.00),
    (311.75, 13.73), (311.74, 13.66), (311.80, 13.87), (311.86, 13.95), (311.84, 13.72),
    (311.87, 13.62), (311.92, 13.69), (311.96, 13.69), (311.94, 13.64), (311.82, 13.45),
    (311.90, 13.38), (311.88, 13.33), (311.87, 13.27), (311.96, 13.25), (311.93, 13.15),
    (311.91, 13.05), (311.79, 13.08), (311.75, 12.82), (311.91, 12.79), (311.63, 13.62),
    (311.63, 13.56), (311.69, 13.60), (311.68, 13.56), (311.69, 13.52), (311.68, 13.48),
    (311.62, 13.46), (311.65, 13.40), (311.70, 13.39), (311.55, 13.29), (311.56, 13.15),
    (311.59, 13.14), (311.60, 13.04), (311.58, 12.99), (311.64, 12.97), (311.52, 12.80),
    (311.60, 12.65), (311.65, 12.65), (311.65, 12.46), (311.63, 12.40), (311.67, 12.42),
    (311.62, 12.28), (311.65, 12.23), (311.57, 12.11), (311.74, 12.25), (311.76, 12.28),
    (311.79, 12.40), (311.75, 12.53), (311.80, 12.60), (311.84, 12.58), (311.14, 13.62),
    (311.26, 13.65), (311.15, 13.54), (311.14, 13.45), (311.13, 13.40), (311.21, 13.42),
    (311.25, 13.45), (311.19, 13.30), (311.29, 13.32), (311.33, 13.46), (311.39, 13.41),
    (311.45, 13.48), (311.45, 13.44), (311.46, 13.37), (311.46, 13.29), (311.33, 13.24),
    (311.31, 13.19), (311.29, 13.20), (311.27, 13.09), (311.29, 13.10), (311.28, 13.00),
    (311.35, 13.02), (311.39, 13.01), (311.42, 13.07), (311.44, 13.09), (310.92, 13.44),
    (310.98, 13.43), (310.97, 13.34), (311.03, 13.35), (311.02, 13.29), (310.96, 13.25),
    (311.00, 13.24), (311.05, 13.23), (310.91, 13.15), (310.97, 13.06), (311.10, 12.92),
    (311.12, 12.82), (311.18, 12.80), (311.22, 12.86), (311.26, 12.85), (311.28, 12.85),
    (311.38, 12.87), (311.36, 12.72), (311.33, 12.62), (311.28, 12.69), (311.21, 12.62),
    (311.21, 12.57), (311.25, 12.46), (311.45, 12.48), (311.49, 12.54), (311.50, 12.56),
    (311.47, 12.69), (311.44, 12.62), (311.38, 12.35), (311.23, 12.30), (310.00, 13.00),
    (310.07, 13.07), (310.06, 12.83), (310.05, 12.74), (310.16, 13.25), (310.30, 13.23),
    (310.43, 13.07), (310.60, 13.26), (310.61, 13.18), (310.69, 13.06), (310.78, 12.85),
    (310.81, 12.97), (310.79, 12.77), (310.82, 12.78), (310.83, 12.80), (310.78, 12.73),
    (310.81, 12.69), (310.87, 12.69), (310.92, 12.81), (310.97, 12.80), (310.96, 12.74),
    (310.97, 12.70), (311.03, 12.69), (311.07, 12.67), (311.01, 12.51), (311.00, 12.39),
    (310.88, 12.45), (310.84, 12.36), (310.91, 12.32), (310.92, 12.26), (310.81, 12.30),
    (310.68, 12.83), (310.57, 12.89), (310.58, 12.77), (310.58, 12.72), (310.49, 12.69),
    (310.48, 12.79), (310.42, 12.76), (310.39, 12.76), (310.39, 12.66), (310.33, 12.98),
    (310.31, 12.90), (310.37, 12.85), (310.33, 12.66), (310.25, 12.72), (310.31, 12.60),
    (310.16, 12.60), (310.19, 12.59), (310.06, 12.49), (310.08, 12.52), (310.04, 12.39),
    (310.18, 12.45), (310.19, 12.35), (310.39, 12.46), (310.45, 12.42), (310.51, 12.55),
    (310.58, 12.50), (310.64, 12.52), (310.45, 12.28), (310.50, 12.30), (310.56, 12.29),
    (310.61, 12.30), (310.31, 12.25), (310.31, 12.20), (310.39, 12.22), (310.45, 12.16),
    (310.43, 12.09), (310.28, 12.07), (310.13, 12.00), (310.67, 12.17), (310.66, 12.09),
    (310.50, 12.02), (310.57, 12.03), (310.79, 12.09), (310.85, 12.03), (310.85, 12.14),
    (310.90, 12.13), (310.94, 12.04), (310.98, 12.11), (311.04, 12.14), (311.13, 12.14),
    (311.19, 12.07), (311.30, 12.16), (311.32, 12.14), (311.42, 12.07), (311.65, 12.01),
    (311.21, 12.30),
]

##########################
## Plot

plt.rcParams['font.family'] = ['Liberation Sans', 'DejaVu Sans']

fig = plt.figure(figsize=(13.04, 8.79), dpi=100, facecolor='#141414')

# white slide panel, kept behind the axes
fig.patches.append(Rectangle((10 / 1304, 0), 1, 873 / 879, transform=fig.transFigure,
                             facecolor='white', edgecolor='none', zorder=-10))

ax = fig.add_axes([192 / 1304, 1 - 765 / 879, 1077 / 1304, 702 / 879])
ax.set_zorder(5)

field = np.array(stars_nw + stars_n + stars_ne + stars_sw + stars_s + stars_se + stars_core)
ax.scatter(field[:, 0], field[:, 1], s=13, color='black', linewidths=0, zorder=2)

# tidal radius
t = np.linspace(0, 2 * np.pi, 300)
ax.plot(cluster_l + cluster_r * np.cos(t), cluster_b + cluster_r * np.sin(t),
        color='black', lw=1.3, zorder=3)

members = np.array(members_field + members_core)
ax.scatter(members[:, 0], members[:, 1], s=85, color='#ff0000', linewidths=0, zorder=4)

ax.set_xlim(306, 312)
ax.set_ylim(12, 18.2)
ax.set_xticks(np.arange(306, 313, 1))
ax.set_yticks(np.arange(12, 19, 1))
ax.set_xticks(np.arange(306, 312.01, 0.1), minor=True)
ax.set_yticks(np.arange(12, 18.21, 0.1), minor=True)
ax.tick_params(which='both', direction='in', top=True, right=True, color='#444444')
ax.tick_params(which='major', length=15, width=1.0, labelsize=25)
ax.tick_params(axis='x', which='major', pad=9)
ax.tick_params(axis='y', which='major', pad=7)
ax.tick_params(which='minor', length=7.5, width=0.9)
for sp in ax.spines.values():
    sp.set_color('#555555')
    sp.set_linewidth(1.5)

# lift the bottom "12" so it clears the "306" below it, as in the slide
ax.yaxis.get_major_ticks()[0].label1.set_verticalalignment('baseline')

ax.set_xlabel('Galactic longitude (°)', fontsize=24, labelpad=0)
ax.set_ylabel('Galactic latitude (°)', fontsize=24, labelpad=10)

fig.text(30 / 1304, 1 - 866 / 879, 'Omega Cen in RAVE', fontsize=39,
         family=['Roboto', 'Liberation Sans'], fontweight='light', color='black',
         ha='left', va='baseline')

fig.savefig('out.png', dpi=100, facecolor=fig.get_facecolor())
